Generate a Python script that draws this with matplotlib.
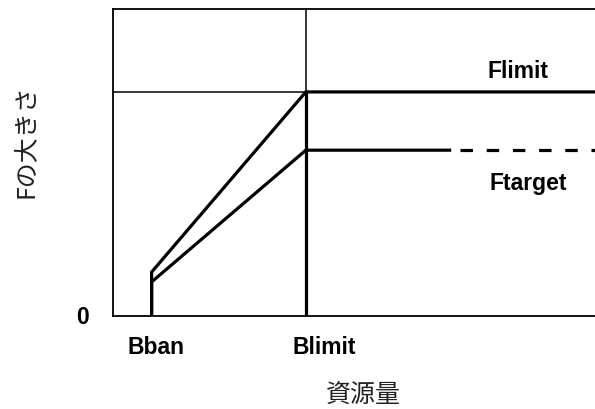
import matplotlib.pyplot as plt

# reference points (Blimit = 1, Flimit = 1)
bban = 0.2
blimit = 1.0
b_max = 2.5
flimit = 1.0
ftarget = 0.74
flimit_at_bban = 0.196
ftarget_at_bban = 0.152
ftarget_solid_end = 1.746
ftarget_dash_start = 1.798
y_top = 1.37

# control rule segments
flimit_x = [bban, bban, blimit, b_max]
flimit_y = [0, flimit_at_bban, flimit, flimit]
ftarget_x = [bban, bban, blimit, ftarget_solid_end]
ftarget_y = [0, ftarget_at_bban, ftarget, ftarget]
ftarget_dash_x = [ftarget_dash_start, b_max]
ftarget_dash_y = [ftarget, ftarget]

jp = ['Noto Sans CJK JP', 'DejaVu Sans']
lab = dict(family='Liberation Sans', fontweight='bold', fontsize=16.5)

fig = plt.figure(figsize=(5.95, 4.10), dpi=100)
ax = fig.add_axes([0.19, 0.2268, 0.81, 0.7488])

thick = 2.3
thin = 1.1
ax.plot(flimit_x, flimit_y, color='black', lw=thick, solid_joinstyle='miter')
ax.plot(ftarget_x, ftarget_y, color='black', lw=thick, solid_joinstyle='miter')
ax.plot(ftarget_dash_x, ftarget_dash_y, color='black', lw=thick, dashes=(3.9, 4.3))
# Blimit vertical
ax.plot([blimit, blimit], [0, flimit], color='black', lw=thick)
ax.plot([blimit, blimit], [flimit, y_top], color='black', lw=thin)
# Flimit horizontal guide left of Blimit
ax.plot([0, blimit], [flimit, flimit], color='black', lw=thin)

ax.set_xlim(0, b_max)
ax.set_ylim(0, y_top)
ax.set_xticks([])
ax.set_yticks([])
ax.spines['right'].set_visible(False)
for s in ['left', 'top', 'bottom']:
    ax.spines[s].set_linewidth(1.3)

ax.text(-0.16, 0, '0', ha='center', va='center', clip_on=False, **lab)
ax.text(0.223, -0.134, 'Bban', ha='center', va='center', clip_on=False, **lab)
ax.text(1.098, -0.134, 'Blimit', ha='center', va='center', clip_on=False, **lab)
ax.text(2.098, 1.094, 'Flimit', ha='center', va='center', **lab)
ax.text(2.155, 0.598, 'Ftarget', ha='center', va='center', **lab)

ax.text(1.30, -0.348, '資源量', ha='center', va='center', family=jp,
        fontsize=18, color='#222222', clip_on=False)
ax.text(-0.456, 0.786, 'Fの大きさ', ha='center', va='center', family=jp,
        fontsize=18, color='#222222', rotation=90, clip_on=False)

fig.savefig('out.png', dpi=100)
